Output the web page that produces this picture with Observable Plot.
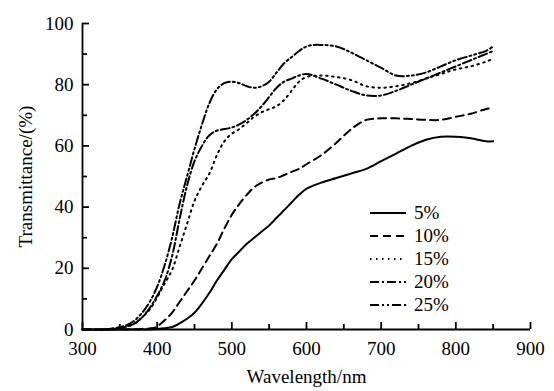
<!DOCTYPE html>
<html>
<head>
<meta charset="utf-8">
<script src="https://cdn.jsdelivr.net/npm/d3@7"></script>
<script src="https://cdn.jsdelivr.net/npm/@observablehq/plot@0.6"></script>
<style>
  html, body { margin: 0; padding: 0; background: #fff; }
  #wrap { position: relative; width: 554px; height: 391px; }
  #legend { position: absolute; left: 368px; top: 201px; font-family: "Liberation Serif", "Times New Roman", Times, serif; font-size: 19px; color: #000; }
  #legend .row { display: flex; align-items: center; height: 23px; }
  #legend svg { margin-right: 6px; }
</style>
</head>
<body>
<div id="wrap"><div id="legend"></div></div>
<script>
const seriesNames = ["5%", "10%", "15%", "20%", "25%"];
const dashes = [null, "8,5", "1.5,4.5", "9,3,2,3", "9,3,2,3,2,3"];

const wl5 = [300,350,380,400,410,420,430,440,450,460,470,480,490,500,510,520,530,540,550,560,570,580,590,600,620,640,660,680,700,720,740,760,780,800,820,840,850];
const t5  = [0,0,0,0.2,0.4,0.8,2,3.5,5.5,8.5,12,16,19.5,23,25.5,28,30,32,34,36.5,39,41.5,44,46,48,49.5,51,52.5,55,57.5,60,62,63,63,62.5,61.5,61.5];

const wl10 = [300,350,380,395,400,410,420,430,440,450,460,470,480,490,500,510,520,530,540,550,560,570,580,590,600,620,640,660,680,700,720,740,760,780,800,820,840,850];
const t10  = [0,0,0.2,0.5,1,3,5.5,9,12.5,16,20,24,28,33,37.5,41,44,46.5,48,49,49.5,50.5,51.5,52.5,54,57,61,65.5,68.5,69,69,68.8,68.5,68.5,69.5,70.5,72,72.5];

const wl15 = [300,330,350,360,370,380,390,400,410,420,430,440,450,460,470,480,490,500,510,520,530,540,550,560,570,580,590,600,620,640,660,680,700,720,740,760,780,800,820,840,850];
const t15  = [0,0,0.5,1,2,4,6.5,10.5,15,19.5,27,34.5,42,47,51,57,61.5,64,65.5,67.5,69.5,71,72,73,75,78,81,82.5,83,82.5,81.5,79.5,79,79.5,80.5,82,83.5,85,86,87.5,88.5];

const wl20 = [300,330,350,360,370,380,390,400,410,420,430,440,450,460,470,480,490,500,510,520,530,540,550,560,570,580,590,600,620,640,660,680,700,720,740,760,780,800,820,840,850];
const t20  = [0,0,0.5,1,2,4,7,11,16,24,36,47,55,60,63.5,65,65.5,66,67,68.5,70.5,73,76,79,81,82,83,83.5,82,80,78,76.5,76.5,78,80,82,84,86,88,90,91];

const wl25 = [300,330,350,360,370,380,390,400,410,420,430,440,450,460,470,480,490,500,510,520,530,540,550,560,570,580,590,600,610,620,640,660,680,700,720,740,760,780,800,820,840,850];
const t25  = [0,0,0.8,1.5,3,5.5,9,14,21,30,41,50,59,67,74,78.5,80.5,81,80.5,79.5,79,79.5,81,84,87,89,91,92.5,93,93,92.5,90.5,88,85.5,83,83,84,86,88,89.5,91,92.5];

const xMajor = [300,400,500,600,700,800,900];
const xMinor = [350,450,550,650,750,850];
const yMajor = [0,20,40,60,80,100];
const yMinor = [10,30,50,70,90];

const wls = [wl5, wl10, wl15, wl20, wl25];
const ts = [t5, t10, t15, t20, t25];
const font = "'Liberation Serif', 'Times New Roman', Times, serif";

const W = 554, H = 391, ML = 82, MR = 24, MT = 23, MB = 62;
const PW = W - ML - MR, PH = H - MT - MB;
const xDom = [300, 900], yDom = [0, 100];
// tick lengths in pixels converted to data units
const pxToX = px => px * (xDom[1] - xDom[0]) / PW;
const pxToY = px => px * (yDom[1] - yDom[0]) / PH;

const lineMarks = seriesNames.map((name, i) => {
  const rows = wls[i].map((w, j) => ({w, t: ts[i][j]}));
  return Plot.line(rows, {x: "w", y: "t", stroke: "black", strokeWidth: 2, curve: "catmull-rom", strokeDasharray: dashes[i]});
});

const plot = Plot.plot({
  width: W,
  height: H,
  marginLeft: ML,
  marginRight: MR,
  marginTop: MT,
  marginBottom: MB,
  style: {fontFamily: font, fontSize: "19px", background: "white", color: "black"},
  x: {domain: xDom},
  y: {domain: yDom},
  marks: [
    ...lineMarks,
    Plot.axisX(xMajor, {tickSize: 0, tickPadding: 12, label: null, fontSize: 19, fontFamily: font}),
    Plot.axisY(yMajor, {tickSize: 0, tickPadding: 9, label: null, fontSize: 19, fontFamily: font}),
    Plot.ruleX(xMajor, {x: d => d, y1: yDom[0], y2: yDom[0] + pxToY(7), strokeWidth: 1.8}),
    Plot.ruleX(xMinor, {x: d => d, y1: yDom[0], y2: yDom[0] + pxToY(5), strokeWidth: 1.8}),
    Plot.ruleY(yMajor, {y: d => d, x1: xDom[0], x2: xDom[0] + pxToX(7), strokeWidth: 1.8}),
    Plot.ruleY(yMinor, {y: d => d, x1: xDom[0], x2: xDom[0] + pxToX(5), strokeWidth: 1.8}),
    Plot.ruleX([xDom[0]], {strokeWidth: 1.8}),
    Plot.ruleY([yDom[0]], {strokeWidth: 1.8}),
    Plot.text(["Transmittance/(%)"], {frameAnchor: "left", textAnchor: "middle", rotate: -90, dx: -57, fontSize: 19, fontFamily: font}),
    Plot.text(["Wavelength/nm"], {frameAnchor: "bottom", dy: 53, fontSize: 19, fontFamily: font})
  ]
});
document.getElementById("wrap").prepend(plot);

const legend = document.getElementById("legend");
seriesNames.forEach((name, i) => {
  const row = document.createElement("div");
  row.className = "row";
  const ns = "http://www.w3.org/2000/svg";
  const svg = document.createElementNS(ns, "svg");
  svg.setAttribute("width", 40);
  svg.setAttribute("height", 10);
  const ln = document.createElementNS(ns, "line");
  ln.setAttribute("x1", 2); ln.setAttribute("x2", 38);
  ln.setAttribute("y1", 5); ln.setAttribute("y2", 5);
  ln.setAttribute("stroke", "black");
  ln.setAttribute("stroke-width", 2);
  if (dashes[i]) ln.setAttribute("stroke-dasharray", dashes[i]);
  svg.appendChild(ln);
  row.appendChild(svg);
  const span = document.createElement("span");
  span.textContent = name;
  row.appendChild(span);
  legend.appendChild(row);
});
</script>
</body>
</html>
